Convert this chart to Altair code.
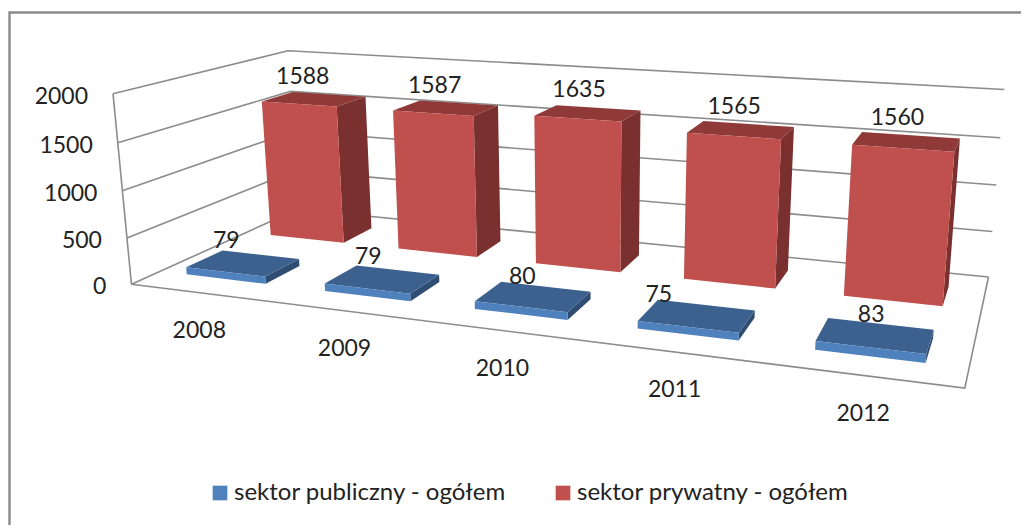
import altair as alt
import numpy as np

years = ["2008", "2009", "2010", "2011", "2012"]
publiczny = [79, 79, 80, 75, 83]
prywatny = [1588, 1587, 1635, 1565, 1560]
ticks = [0, 500, 1000, 1500, 2000]
PUB = "sektor publiczny - ogółem"
PRI = "sektor prywatny - ogółem"

# camera calibration: (category pos, depth, value) -> page pixel
cal = [
    (0,0,2000,113.5,94.5),(0,0,1500,118.3,143),(0,0,1000,122.7,190.7),(0,0,500,127.7,237),(0,0,0,129.3,284.3),
    (5,1,2000,1004.5,89.5),(5,1,1500,1000.7,137.7),(5,1,1000,996.3,185),(5,1,500,992.3,231.7),(5,1,0,988,276.7),
    (0,1,2000,287,50.5),(0,1,1500,290,91),(0,1,0,299,210),(5,0,0,965,388.3),
]
A = []
for u, z, v, px, py in cal:
    X = [u/5, z, v/2000, 1]
    px, py = px/1000, py/1000
    A.append(X + [0,0,0,0] + [-px*c for c in X])
    A.append([0,0,0,0] + X + [-py*c for c in X])
P = np.linalg.svd(np.array(A))[2][-1].reshape(3,4)

def proj(u, z, v):
    h = P @ np.array([u/5, z, v/2000, 1])
    return [float(h[0]/h[2]*1000-8), float(h[1]/h[2]*1000-8)]

BW = 0.29  # half-width of a bar in category units
Z = {PUB: (0.148, 0.352), PRI: (0.648, 0.852)}
features = []
def face(kind, pts):
    features.append({"type":"Feature","properties":{"face":kind},
        "geometry":{"type":"Polygon","coordinates":[pts+[pts[0]]]}})
def box(i, val, s, top, side):
    a, b = i+0.49-BW, i+0.49+BW
    z0, z1 = Z[s]
    face(side, [proj(b,z0,0),proj(b,z1,0),proj(b,z1,val),proj(b,z0,val)])
    face(top, [proj(a,z0,val),proj(b,z0,val),proj(b,z1,val),proj(a,z1,val)])
    face(s, [proj(a,z0,0),proj(b,z0,0),proj(b,z0,val),proj(a,z0,val)])
for i, val in enumerate(prywatny):
    box(i, val, PRI, "pri_top", "pri_side")
for i, val in enumerate(publiczny):
    box(i, val, PUB, "pub_top", "pub_side")

lines = []
def line(pts):
    lines.append({"type":"Feature","properties":{},"geometry":{"type":"LineString","coordinates":pts}})
for t in ticks:
    line([proj(0,0,t),proj(0,1,t),proj(5,1,t)])
line([proj(0,0,0),proj(0,0,2000)])
line([proj(0,0,0),proj(5,0,0),proj(5,1,0)])

frame = [{"type":"Feature","properties":{},"geometry":{"type":"LineString","coordinates":[[1.5,600],[1.5,4.5],[1100,4.5]]}}]

pri_off = [(-26,-17.5),(-24,-17.5),(-19,-17.5),(-14,-17.5),(-13,-17.5)]
pub_off = [(-34,-14),(-29,-13),(-23,-10),(-47,-10),(-9,-9)]
texts = []
for t in ticks:
    x, y = proj(0,0,t)
    texts.append({"x":x-25,"y":y+3,"t":str(t),"a":"right"})
for i, y_ in enumerate(years):
    x, y = proj(i+0.5,0,0)
    texts.append({"x":x-0.5,"y":y+38,"t":y_,"a":"center"})
for i in range(5):
    x, y = proj(i+0.49,Z[PRI][1],prywatny[i])
    texts.append({"x":x+pri_off[i][0],"y":y+pri_off[i][1],"t":str(prywatny[i]),"a":"center"})
    x, y = proj(i+0.49,Z[PUB][1],publiczny[i])
    texts.append({"x":x+pub_off[i][0],"y":y+pub_off[i][1],"t":str(publiczny[i]),"a":"center"})

pr = dict(type="identity", scale=1, translate=[0,0])
def fc(f):
    return alt.Data(values={"type":"FeatureCollection","features":f}, format=alt.DataFormat(property="features", type="json"))

kinds = [PUB, PRI, "pub_top", "pub_side", "pri_top", "pri_side"]
cols = ["#4f81bd", "#c0504d", "#3c618e", "#2f4d72", "#8f3a38", "#79302e"]

base_frame = alt.Chart(fc(frame)).mark_geoshape(filled=False, stroke="#8a8a8a", strokeWidth=2.4).project(**pr)
grid = alt.Chart(fc(lines)).mark_geoshape(filled=False, stroke="#8c8c8c", strokeWidth=1.6).project(**pr)
bars = alt.Chart(fc(features)).mark_geoshape(strokeWidth=0).encode(
    color=alt.Color("properties.face:N", scale=alt.Scale(domain=kinds, range=cols),
        legend=alt.Legend(values=[PUB, PRI], title=None, orient="none", legendX=200, legendY=473,
            direction="horizontal", columns=2, symbolType="square", symbolSize=215, symbolStrokeWidth=0,
            labelFont="Lato", labelFontSize=24, labelColor="#222222", labelLimit=400, columnPadding=44,
            labelOffset=2))
).project(**pr)
def text_layer(align):
    return alt.Chart(alt.Data(values=[t for t in texts if t["a"]==align])).mark_text(
        font="Lato", fontSize=23, color="#222222", align=align, baseline="middle"
    ).encode(longitude="x:Q", latitude="y:Q", text="t:N").project(**pr)

chart = alt.layer(base_frame, grid, bars, text_layer("right"), text_layer("center")).properties(
    width=1013, height=517, padding=0, autosize="none"
).configure_view(stroke=None)
chart.save("out.html", embed_options={"renderer": "svg", "actions": False})
